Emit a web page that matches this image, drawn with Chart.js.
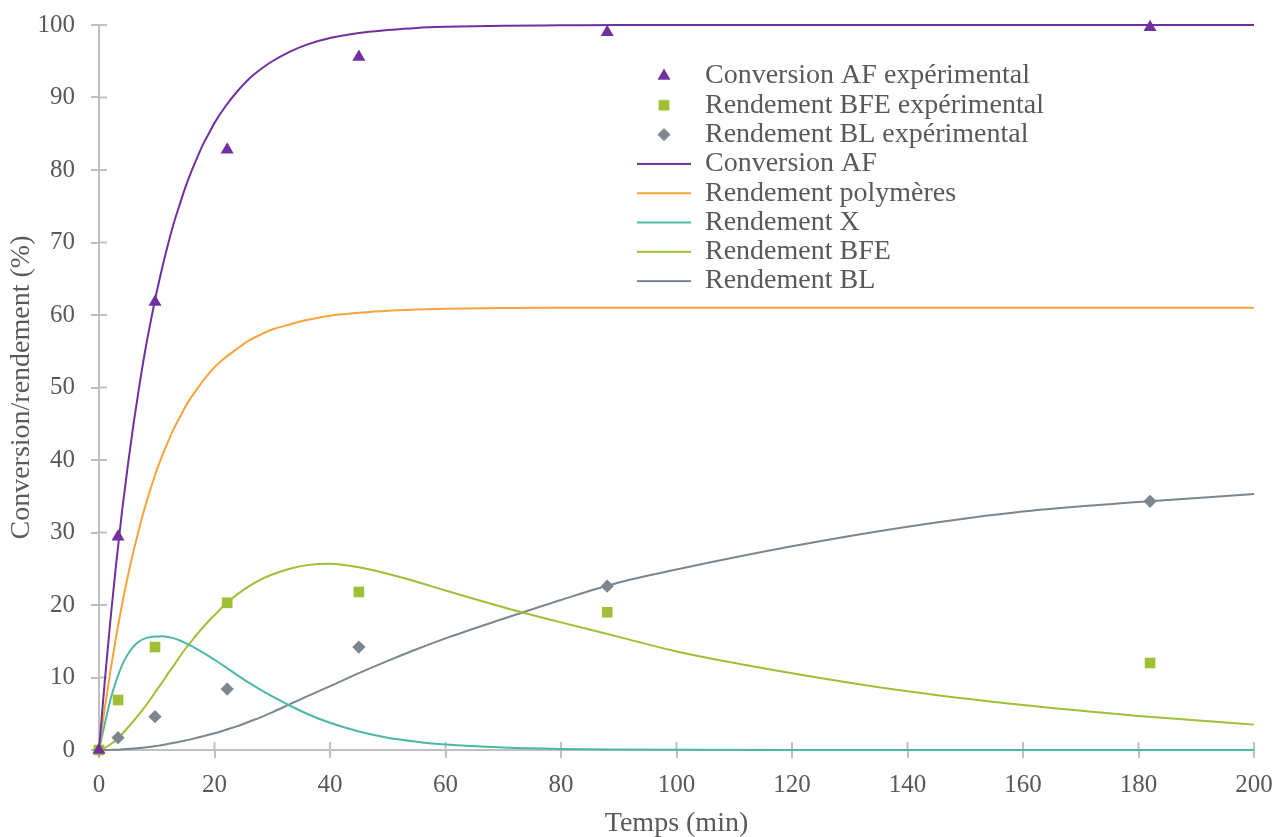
<!DOCTYPE html>
<html>
<head>
<meta charset="utf-8">
<script src="https://cdn.jsdelivr.net/npm/chart.js@4.4.1/dist/chart.umd.min.js"></script>
<style>
  html, body { margin: 0; padding: 0; background: #fff; }
  #wrap { width: 1275px; height: 837px; }
</style>
</head>
<body>
<div id="wrap"><canvas id="kinChart"></canvas></div>
<script>
// experimental points
const tExp = [0, 3.3, 9.7, 22.2, 45, 88, 182];
const convExp = [0, 29.4, 61.8, 82.8, 95.6, 99.0, 99.7];
const bfeExp = [0, 6.9, 14.2, 20.3, 21.8, 19.0, 12.0];
const blExp = [0, 1.7, 4.6, 8.4, 14.2, 22.6, 34.3];

// model curves
const tModel = [0, 1, 2, 3, 4, 5, 6, 7, 8, 9, 10, 11, 12, 13, 14, 15, 16, 17, 18, 19, 20, 22, 24, 26, 28, 30, 33, 36, 40, 45, 50, 55, 60, 70, 80, 90, 100, 120, 140, 160, 180, 200];
const convModel = [0, 9.5, 18.1, 25.9, 33, 39.3, 45.1, 50.3, 55.1, 59.3, 63.2, 66.7, 69.9, 72.8, 75.3, 77.7, 79.8, 81.7, 83.5, 85, 86.5, 88.9, 90.9, 92.6, 93.9, 95, 96.3, 97.3, 98.2, 98.9, 99.3, 99.6, 99.75, 99.9, 99.95, 100, 100, 100, 100, 100, 100, 100];
const polyModel = [0, 5.8, 11, 15.8, 20.1, 24, 27.5, 30.7, 33.6, 36.2, 38.6, 40.7, 42.6, 44.4, 45.9, 47.4, 48.7, 49.8, 50.9, 51.9, 52.8, 54.2, 55.4, 56.5, 57.3, 58, 58.7, 59.3, 59.9, 60.3, 60.6, 60.75, 60.85, 60.95, 61, 61, 61, 61, 61, 61, 61, 61];
const xModel = [0, 3.6, 7.0, 9.6, 11.7, 13.2, 14.3, 15.0, 15.4, 15.6, 15.65, 15.7, 15.6, 15.4, 15.1, 14.75, 14.35, 13.9, 13.45, 12.95, 12.45, 11.4, 10.3, 9.25, 8.3, 7.4, 6.15, 5.0, 3.75, 2.55, 1.7, 1.15, 0.75, 0.35, 0.15, 0.07, 0.03, 0, 0, 0, 0, 0];
const bfeModel = [0, 0.3, 0.8, 1.4, 2.2, 3.1, 4.0, 5.0, 6.0, 7.1, 8.3, 9.4, 10.6, 11.7, 12.9, 14.0, 15.0, 16.0, 16.9, 17.8, 18.6, 20.2, 21.5, 22.6, 23.5, 24.2, 25.0, 25.5, 25.7, 25.2, 24.3, 23.2, 22.0, 19.7, 17.6, 15.6, 13.6, 10.6, 8.1, 6.2, 4.7, 3.5];
const blModel = [0, 0, 0.02, 0.04, 0.09, 0.15, 0.21, 0.28, 0.36, 0.45, 0.57, 0.7, 0.85, 1.0, 1.15, 1.3, 1.5, 1.7, 1.9, 2.1, 2.3, 2.8, 3.3, 3.9, 4.5, 5.2, 6.3, 7.4, 8.8, 10.6, 12.3, 13.9, 15.4, 18.1, 20.7, 23.1, 24.9, 28.1, 30.8, 32.9, 34.2, 35.3];

const FONT = "'Liberation Serif', 'Times New Roman', serif";
const TEXT = '#595959';
const AXIS = '#c0c0c0';
const PURPLE = '#7030a0';
const ORANGE = '#f7a43b';
const TEAL = '#4bb8a8';
const LIME = '#9fbf35';
const GREY = '#7d858d';

function pts(xs, ys) {
    return xs.map((x, i) => ({ x: x, y: ys[i] }));
}

function markers(label, ys, color, style, r) {
    return {
        label: label,
        data: pts(tExp, ys),
        showLine: false,
        pointStyle: style,
        pointRadius: r,
        pointHoverRadius: r,
        backgroundColor: color,
        borderColor: color,
        borderWidth: 0,
        clip: false
    };
}

function curve(label, ys, color) {
    return {
        label: label,
        data: pts(tModel, ys),
        showLine: true,
        pointStyle: 'line',
        pointRadius: 0,
        borderColor: color,
        backgroundColor: color,
        borderWidth: 2,
        cubicInterpolationMode: 'monotone',
        clip: 4
    };
}

// legend icons, 54px wide: a line, or the marker in the middle
function legendIcon(ds) {
    const c = document.createElement('canvas');
    c.width = 54;
    c.height = 20;
    const g = c.getContext('2d');
    if (ds.showLine) {
        g.strokeStyle = ds.borderColor;
        g.lineWidth = 2;
        g.beginPath();
        g.moveTo(0, 10);
        g.lineTo(54, 10);
        g.stroke();
    } else {
        g.fillStyle = ds.backgroundColor;
        g.strokeStyle = ds.borderColor;
        Chart.helpers.drawPoint(g, { pointStyle: ds.pointStyle, radius: ds.pointRadius, borderWidth: 0, rotation: 0 }, 27, 10);
    }
    return c;
}

// put the legend inside the plot, top right
const legendPlace = {
    id: 'legendPlace',
    afterLayout(chart) {
        const lg = chart.legend;
        lg.left = 635.7;
        lg.top = 60.7;
        lg.right = lg.left + lg.width;
        lg.bottom = chart.chartArea.bottom;
    }
};

// tick marks crossing into the plot area
const innerTicks = {
    id: 'innerTicks',
    beforeDatasetsDraw(chart) {
        const { ctx, chartArea, scales } = chart;
        ctx.save();
        ctx.strokeStyle = AXIS;
        ctx.lineWidth = 2;
        scales.x.ticks.forEach((t, i) => {
            const px = scales.x.getPixelForTick(i);
            ctx.beginPath();
            ctx.moveTo(px, chartArea.bottom);
            ctx.lineTo(px, chartArea.bottom - 8);
            ctx.stroke();
        });
        scales.y.ticks.forEach((t, i) => {
            const py = scales.y.getPixelForTick(i);
            ctx.beginPath();
            ctx.moveTo(chartArea.left, py);
            ctx.lineTo(chartArea.left + 8, py);
            ctx.stroke();
        });
        ctx.restore();
    }
};

const ctx = document.getElementById('kinChart').getContext('2d');

new Chart(ctx, {
    type: 'scatter',
    data: {
        datasets: [
            markers('Conversion AF expérimental', convExp, PURPLE, 'triangle', 7.5),
            markers('Rendement BFE expérimental', bfeExp, LIME, 'rect', 7.5),
            markers('Rendement BL expérimental', blExp, GREY, 'rectRot', 6.6),
            curve('Conversion AF', convModel, PURPLE),
            curve('Rendement polymères', polyModel, ORANGE),
            curve('Rendement X', xModel, TEAL),
            curve('Rendement BFE', bfeModel, LIME),
            curve('Rendement BL', blModel, GREY)
        ]
    },
    options: {
        responsive: true,
        maintainAspectRatio: false,
        animation: false,
        layout: { padding: { left: 0, top: 25, right: 21, bottom: 0 } },
        plugins: {
            tooltip: { enabled: false },
            legend: {
                position: 'chartArea',
                align: 'start',
                labels: {
                    usePointStyle: true,
                    pointStyleWidth: 54,
                    boxHeight: 2,
                    padding: 1.3,
                    color: TEXT,
                    font: { family: FONT, size: 28 },
                    generateLabels(chart) {
                        const items = Chart.defaults.plugins.legend.labels.generateLabels(chart);
                        items.forEach((it) => {
                            it.pointStyle = legendIcon(chart.data.datasets[it.datasetIndex]);
                        });
                        return items;
                    }
                }
            }
        },
        scales: {
            x: {
                type: 'linear',
                min: 0,
                max: 200,
                afterFit: (s) => { s.height = 87; s.paddingLeft = 0; s.paddingRight = 0; },
                border: { color: AXIS, width: 2 },
                grid: { drawOnChartArea: false, drawTicks: true, tickLength: 8, color: AXIS, lineWidth: 2 },
                ticks: { stepSize: 20, padding: 12, color: TEXT, font: { family: FONT, size: 25 } },
                title: { display: true, text: 'Temps (min)', color: TEXT, font: { family: FONT, size: 28 }, padding: { top: 0, bottom: -3 } }
            },
            y: {
                min: 0,
                max: 100,
                afterFit: (s) => { s.width = 99; s.paddingTop = 0; s.paddingBottom = 0; },
                border: { color: AXIS, width: 2 },
                grid: { drawOnChartArea: false, drawTicks: true, tickLength: 8, color: AXIS, lineWidth: 2 },
                ticks: { stepSize: 10, padding: 16, color: TEXT, font: { family: FONT, size: 25 } },
                title: { display: true, text: 'Conversion/rendement (%)', color: TEXT, font: { family: FONT, size: 28 }, padding: { top: 5, bottom: 0 } }
            }
        }
    },
    plugins: [legendPlace, innerTicks]
});
</script>
</body>
</html>
